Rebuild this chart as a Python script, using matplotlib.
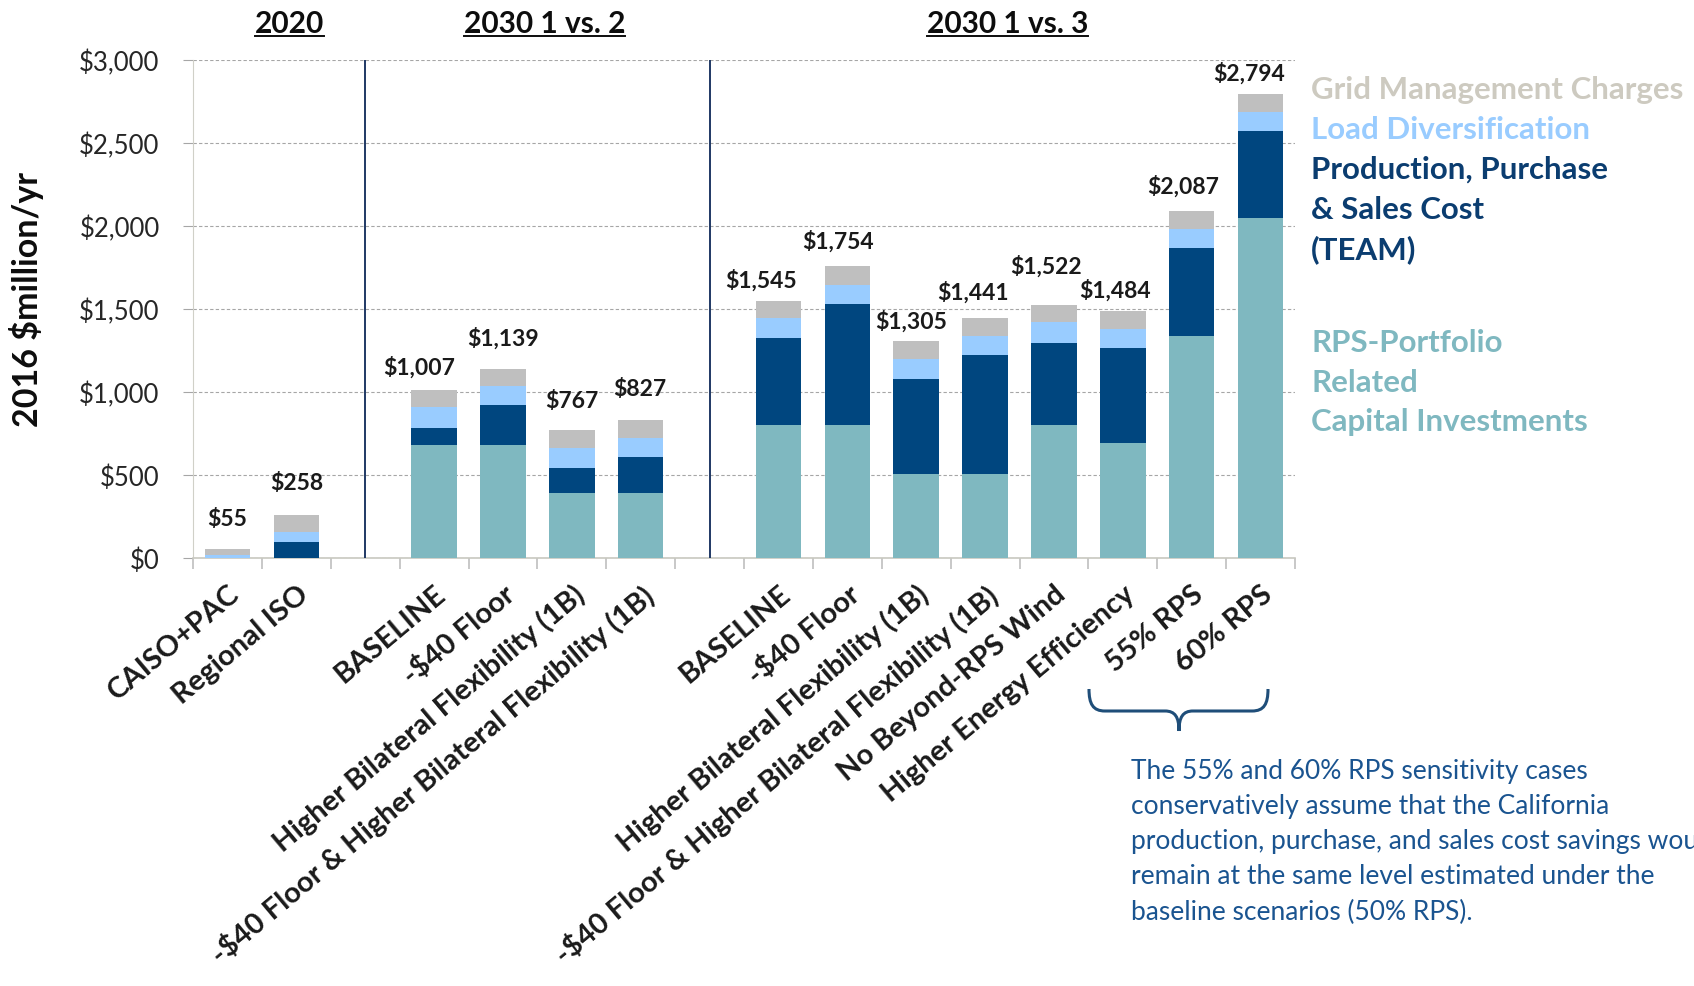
import numpy as np
import matplotlib.pyplot as plt
from matplotlib.path import Path
from matplotlib.patches import PathPatch
from matplotlib.lines import Line2D

plt.rcParams['font.family'] = ['Lato', 'DejaVu Sans']

# data ($million/yr, 2016)
groups = ["2020", "2030 1 vs. 2", "2030 1 vs. 3"]
group_sizes = [2, 4, 8]
categories = ["CAISO+PAC", "Regional ISO",
              "BASELINE", "-$40 Floor", "Higher Bilateral Flexibility (1B)",
              "-$40 Floor & Higher Bilateral Flexibility (1B)",
              "BASELINE", "-$40 Floor", "Higher Bilateral Flexibility (1B)",
              "-$40 Floor & Higher Bilateral Flexibility (1B)",
              "No Beyond-RPS Wind", "Higher Energy Efficiency", "55% RPS", "60% RPS"]
rps_capital = [0, 0, 680, 680, 392, 392, 800, 800, 507, 507, 800, 691, 1334, 2044]
production = [0, 92, 99, 237, 149, 214, 525, 728, 571, 712, 490, 569, 528, 525]
load_div = [15, 62, 129, 117, 120, 115, 120, 117, 118, 115, 132, 120, 117, 115]
grid_mgmt = [40, 104, 99, 105, 106, 106, 100, 109, 109, 107, 100, 104, 108, 110]
totals = [55, 258, 1007, 1139, 767, 827, 1545, 1754, 1305, 1441, 1522, 1484, 2087, 2794]

note_lines = ["The 55% and 60% RPS sensitivity cases",
              "conservatively assume that the California",
              "production, purchase, and sales cost savings would",
              "remain at the same level estimated under the",
              "baseline scenarios (50% RPS)."]

# hand placement of the total labels (pixels: left shift, height above bar)
label_dx = [0, 0, -15, 0, 0, -1, -17, -9, -5, -12, -8, -8, -9, -12]
label_dy = [30, 32, 24, 31, 30, 32, 22, 26, 20, 27, 39, 22, 26, 21]

c_rps = '#7fb8c0'
c_prod = '#00467f'
c_load = '#99ccff'
c_grid = '#bfbfbf'

W, H = 1694, 987
fig = plt.figure(figsize=(W / 100, H / 100), dpi=100)
ax = fig.add_axes([193 / W, 1 - 558.7 / H, (1295 - 193) / W, (558.7 - 60.5) / H])

# slot positions, one empty slot between groups
x = []
seps = []
p = 0
for gi, n in enumerate(group_sizes):
    x += list(range(p, p + n))
    p += n
    if gi < len(group_sizes) - 1:
        seps.append(p)
        p += 1
x = np.array(x)
nslots = p

rps = np.array(rps_capital)
prod = np.array(production)
load = np.array(load_div)
grid = np.array(grid_mgmt)

bw = 0.66
ax.bar(x, rps, bw, color=c_rps, zorder=3)
ax.bar(x, prod, bw, bottom=rps, color=c_prod, zorder=3)
ax.bar(x, load, bw, bottom=rps + prod, color=c_load, zorder=3)
ax.bar(x, grid, bw, bottom=rps + prod + load, color=c_grid, zorder=3)

for xi, t, top, dx, dy in zip(x, totals, rps + prod + load + grid, label_dx, label_dy):
    ax.annotate(f"${t:,}", (xi, top), xytext=(dx * 0.72, dy * 0.72), textcoords='offset points',
                ha='center', va='center', fontsize=16.5, fontweight='bold', color='#1a1a1a')

for s in seps:
    ax.plot([s, s], [0, 3000], color='#1f3864', lw=1.4, zorder=4)

ax.set_xlim(-0.5, nslots - 0.5)
ax.set_ylim(0, 3000)
ax.set_yticks(np.arange(0, 3001, 500))
ax.set_yticklabels([f"${v:,}" for v in range(0, 3001, 500)], fontsize=18.5, color='#262626')
ax.yaxis.grid(True, color='#a6a6a6', ls=(0, (3, 2)), lw=0.8, zorder=0)
ax.tick_params(axis='y', length=7, color='#a6a6a6', pad=17)

ax.set_xticks(x)
ax.set_xticklabels(categories, rotation=40, ha='right', va='top', rotation_mode='anchor',
                   fontsize=21, fontweight='bold', color='#1a1a1a')
ax.set_xticks(np.arange(-0.5, nslots, 1), minor=True)
ax.tick_params(axis='x', which='major', length=0, pad=16)
ax.tick_params(axis='x', which='minor', length=8, color='#bfbfbf', width=1.2)

for side in ['top', 'right']:
    ax.spines[side].set_visible(False)
ax.spines['left'].set_color('#d0d0c8')
ax.spines['bottom'].set_color('#c8c8c0')
ax.spines['bottom'].set_linewidth(1.2)

fig.text(27 / W, 1 - 300 / H, "2016 $million/yr", rotation=90, ha='center', va='center',
         fontsize=24.5, fontweight='bold', color='#0d0d0d')

# group headers, underlined
header_x = [0.9, 4.6, 11.33]
headers = []
for gx, g in zip(header_x, groups):
    xf = fig.transFigure.inverted().transform(ax.transData.transform((gx, 0)))[0]
    headers.append(fig.text(xf, 1 - 24 / H, g, ha='center', va='center',
                            fontsize=21.5, fontweight='bold', color='#0d0d0d'))
fig.canvas.draw()
r = fig.canvas.get_renderer()
for t in headers:
    bb = t.get_window_extent(r)
    fig.add_artist(Line2D([bb.x0 / W, bb.x1 / W], [1 - 37 / H, 1 - 37 / H],
                          color='#0d0d0d', lw=1.4, transform=fig.transFigure))

# legend as coloured text
legend_items = [("Grid Management Charges", '#cdcac0', 90),
                ("Load Diversification", '#99ccff', 130),
                ("Production, Purchase", '#0b3d70', 170),
                ("& Sales Cost", '#0b3d70', 210),
                ("(TEAM)", '#0b3d70', 250),
                ("RPS-Portfolio", c_rps, 343),
                ("Related", c_rps, 383),
                ("Capital Investments", c_rps, 422)]
for txt, col, yp in legend_items:
    fig.text(1311 / W, 1 - yp / H, txt, ha='left', va='center', fontsize=22.5,
             fontweight='bold', color=col)

# brace under the RPS cases
pts = [(1089, 690), (1089, 705), (1093, 712), (1105, 712),
       (1165, 712), (1175, 712), (1179, 718), (1179, 732),
       (1179, 718), (1183, 712), (1193, 712),
       (1252, 712), (1264, 712), (1268, 705), (1268, 690)]
codes = [Path.MOVETO, Path.CURVE4, Path.CURVE4, Path.CURVE4,
         Path.LINETO, Path.CURVE4, Path.CURVE4, Path.CURVE4,
         Path.CURVE4, Path.CURVE4, Path.CURVE4,
         Path.LINETO, Path.CURVE4, Path.CURVE4, Path.CURVE4]
verts = [(px / W, 1 - py / H) for px, py in pts]
fig.add_artist(PathPatch(Path(verts, codes), fill=False, edgecolor='#1f4e79', lw=2.2,
                         transform=fig.transFigure))

for i, line in enumerate(note_lines):
    fig.text(1131 / W, 1 - (772 + 35 * i) / H, line, ha='left', va='center',
             fontsize=19, color='#1a5490')

fig.savefig('out.png', dpi=100)
